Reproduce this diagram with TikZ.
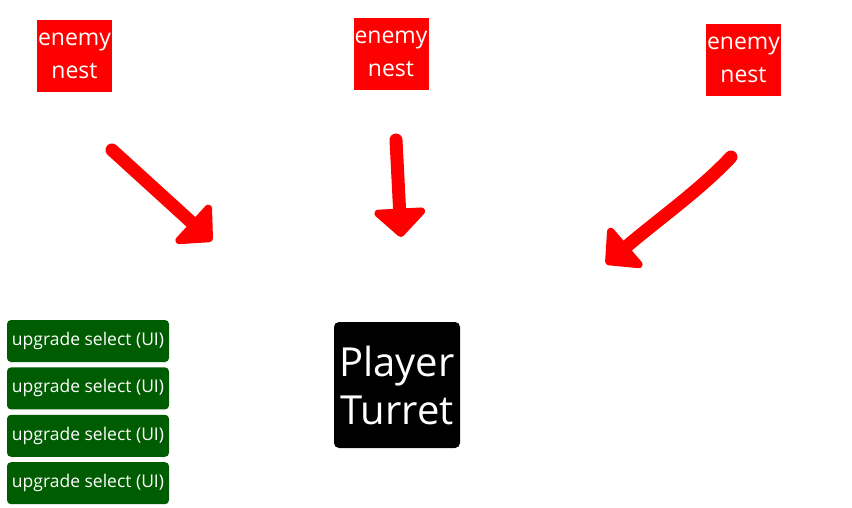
\documentclass[tikz,border=0pt]{standalone}
\usepackage{fontspec}
\setmainfont{Open Sans}
\usetikzlibrary{arrows.meta,positioning}
\definecolor{nestred}{RGB}{255,0,0}
\definecolor{uigreen}{RGB}{0,92,0}

\begin{document}
\begin{tikzpicture}[x=1pt,y=-1pt,
		nestbox/.style={
			rectangle, fill=nestred, text=white,
			minimum width=75pt, minimum height=72pt, inner sep=0pt,
			align=center, font=\fontsize{23}{33}\selectfont
		},
		upgradebox/.style={
			rectangle, rounded corners=4pt, fill=uigreen, text=white,
			minimum width=162pt, minimum height=42pt, inner sep=0pt,
			font=\fontsize{17.5}{19}\selectfont
		},
		turretbox/.style={
			rectangle, rounded corners=5pt, fill=black, text=white,
			minimum width=126pt, minimum height=126pt, inner sep=0pt,
			align=center, font=\fontsize{40}{48}\selectfont
		},
		arrow/.style={
			nestred, line width=13pt, line cap=round, line join=round,
			-{Triangle[length=30pt, width=60pt, round, fill=nestred]}
		}
	]
	\useasboundingbox (0,0) rectangle (852,508);
	
	% enemy nests
	\node[nestbox] (nestA) at (74.5,56) {enemy\\nest};
	\node[nestbox] (nestB) at (391,54) {enemy\\nest};
	\node[nestbox] (nestC) at (743.5,60) {enemy\\nest};
	
	% player turret
	\node[turretbox] (turret) at (397,385) {Player\\Turret};
	
	% upgrade select
	\node[upgradebox] (upgradeA) at (88,341) {upgrade select (UI)};
	\node[upgradebox, below=5pt of upgradeA] (upgradeB) {upgrade select (UI)};
	\node[upgradebox, below=5pt of upgradeB] (upgradeC) {upgrade select (UI)};
	\node[upgradebox, below=5pt of upgradeC] (upgradeD) {upgrade select (UI)};
	
	% arrow ends
	\coordinate (tailA) at (112,150);
	\coordinate (headA) at (212,241);
	\coordinate (tailB) at (396,140);
	\coordinate (headB) at (401,237);
	\coordinate (tailC) at (731,157);
	\coordinate (headC) at (606,264);
	
	% hand drawn arrows
	\draw[arrow] (tailA) -- (headA);
	\draw[arrow] (tailB) -- (headB);
	\draw[arrow] (tailC) .. controls (700,190) and (660,218) .. (headC);
\end{tikzpicture}
\end{document}
